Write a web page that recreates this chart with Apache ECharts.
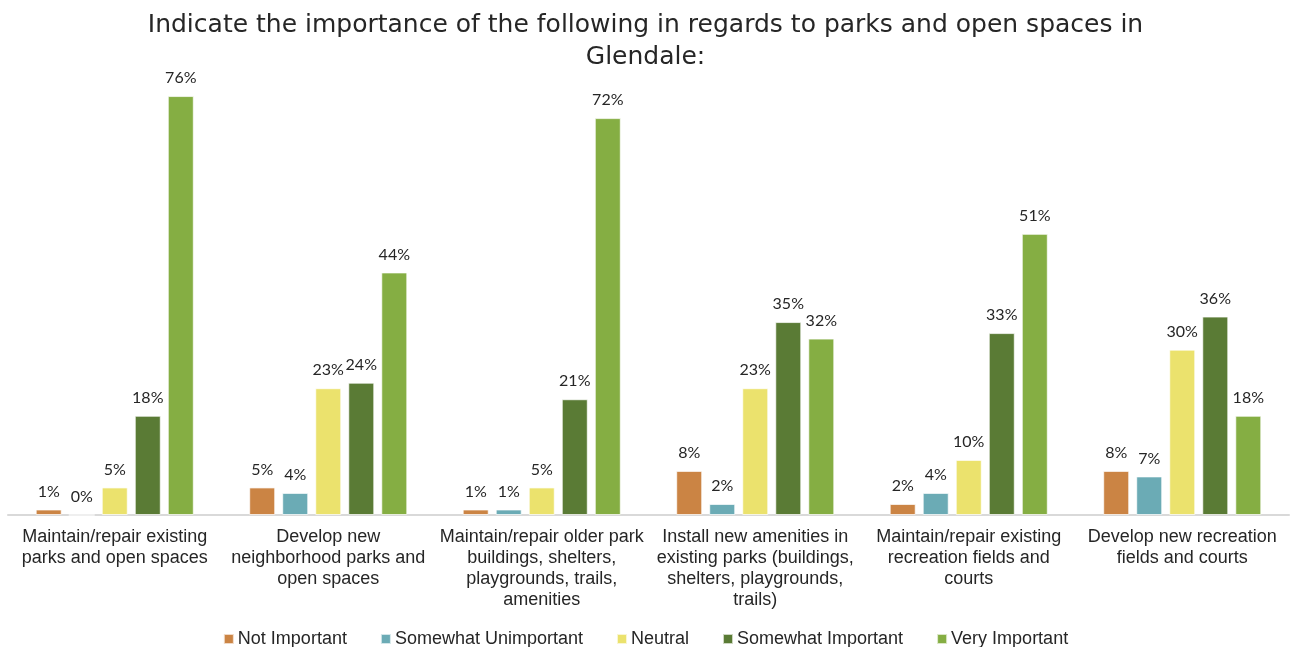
<!DOCTYPE html>
<html>
<head>
<meta charset="utf-8">
<script src="https://cdn.jsdelivr.net/npm/echarts@6/dist/echarts.min.js"></script>
<style>
  html, body { margin: 0; padding: 0; background: #fff; }
  #chart { width: 1291px; height: 647px; }
</style>
</head>
<body>
<div id="chart"></div>
<script>
// Survey categories (line breaks follow the printed wrapping)
const categories = [
  'Maintain/repair existing\nparks and open spaces',
  'Develop new\nneighborhood parks and\nopen spaces',
  'Maintain/repair older park\nbuildings, shelters,\nplaygrounds, trails,\namenities',
  'Install new amenities in\nexisting parks (buildings,\nshelters, playgrounds,\ntrails)',
  'Maintain/repair existing\nrecreation fields and\ncourts',
  'Develop new recreation\nfields and courts'
];

// Percent of respondents per rating
const notImportant        = [1, 5, 1, 8, 2, 8];
const somewhatUnimportant = [0, 4, 1, 2, 4, 7];
const neutral             = [5, 23, 5, 23, 10, 30];
const somewhatImportant   = [18, 24, 21, 35, 33, 36];
const veryImportant       = [76, 44, 72, 32, 51, 18];

const seriesNames = ['Not Important', 'Somewhat Unimportant', 'Neutral', 'Somewhat Important', 'Very Important'];
const seriesData = [notImportant, somewhatUnimportant, neutral, somewhatImportant, veryImportant];
const colors = ['#CB8444', '#6BABB5', '#EBE26D', '#5A7B35', '#85AE43'];

const chart = echarts.init(document.getElementById('chart'));

chart.setOption({
  animation: false,
  color: colors,
  title: {
    text: 'Indicate the importance of the following in regards to parks and open spaces in\nGlendale:',
    left: 'center',
    top: 4,
    textStyle: {
      fontFamily: 'DejaVu Sans',
      fontWeight: 'normal',
      fontSize: 25,
      lineHeight: 32,
      color: '#262626',
      align: 'center'
    }
  },
  legend: {
    bottom: -6,
    left: 'center',
    icon: 'rect',
    itemWidth: 10,
    itemHeight: 10,
    itemGap: 33,
    textStyle: {
      fontFamily: 'Liberation Sans',
      fontSize: 18,
      color: '#262626',
      padding: [0, 0, 0, -1]
    },
    data: seriesNames
  },
  grid: {
    left: 8,
    right: 2,
    top: 74,
    bottom: 132
  },
  xAxis: {
    type: 'category',
    data: categories,
    axisTick: { show: false },
    axisLine: { lineStyle: { color: '#D9D9D9', width: 2 } },
    axisLabel: {
      interval: 0,
      margin: 12,
      fontFamily: 'Liberation Sans',
      fontSize: 18,
      lineHeight: 21,
      color: '#262626',
      align: 'center'
    }
  },
  yAxis: {
    type: 'value',
    min: 0,
    max: 80,
    show: false,
    splitLine: { show: false }
  },
  series: seriesData.map((d, i) => ({
    name: seriesNames[i],
    type: 'bar',
    data: d,
    barWidth: 26,
    barGap: '27%',
    itemStyle: {
      color: colors[i],
      borderColor: 'rgba(255,255,255,0.7)',
      borderWidth: 1
    },
    label: {
      show: true,
      position: 'top',
      distance: 10,
      formatter: '{c}%',
      fontFamily: 'Lato',
      fontSize: 16,
      color: '#262626'
    }
  }))
});
</script>
</body>
</html>
